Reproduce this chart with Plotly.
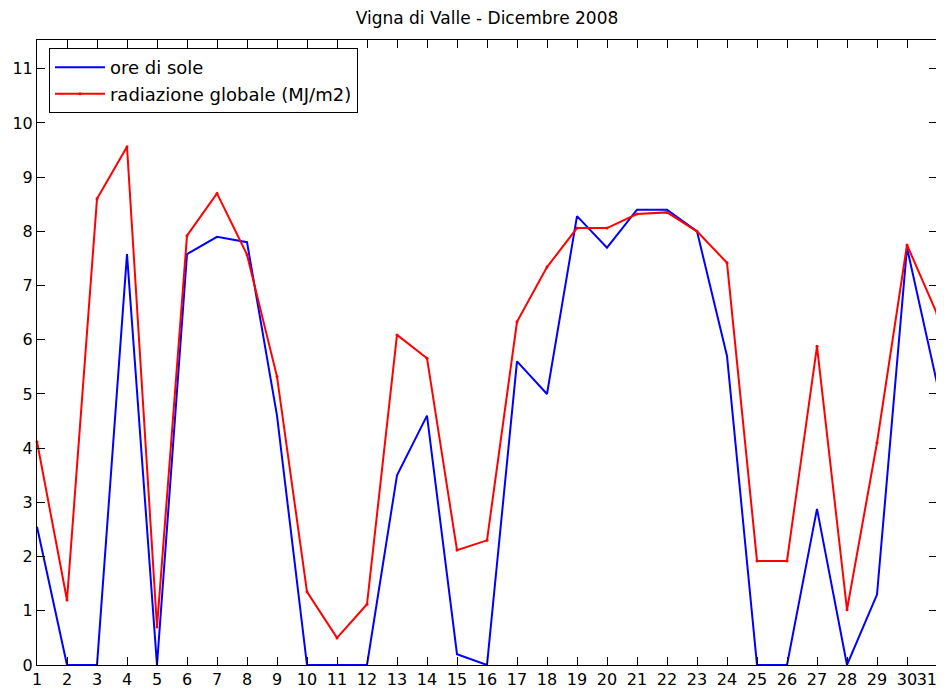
import plotly.graph_objects as go

giorni = list(range(1, 32))
ore_di_sole = [2.55, 0, 0, 7.58, 0, 7.58, 7.9, 7.8, 4.6, 0, 0, 0, 3.5, 4.6, 0.2, 0,
               5.6, 5.0, 8.28, 7.7, 8.4, 8.4, 8.0, 5.7, 0, 0, 2.88, 0, 1.3, 7.7, 5.2]
radiazione = [4.12, 1.2, 8.6, 9.56, 0.7, 7.92, 8.7, 7.57, 5.32, 1.35, 0.5, 1.12, 6.09, 5.66,
              2.12, 2.3, 6.33, 7.34, 8.06, 8.06, 8.32, 8.35, 8.0, 7.42, 1.92, 1.92, 5.88,
              1.02, 4.1, 7.75, 6.48]
x_ticks = list(range(1, 32))
x_labels = [str(v) for v in x_ticks[:-1]] + [
    "31<span style='color:rgba(0,0,0,0)'>00</span>"]
y_ticks = list(range(0, 12))

fig = go.Figure()
fig.add_trace(go.Scatter(x=giorni, y=ore_di_sole, mode="lines", name="ore di sole",
                         line=dict(color="#0000ff", width=2)))
fig.add_trace(go.Scatter(x=giorni, y=radiazione, mode="lines+markers",
                         name="radiazione globale (MJ/m2)",
                         line=dict(color="#ff0000", width=2),
                         marker=dict(color="#ff0000", size=3), cliponaxis=False))

font = "DejaVu Sans, Verdana, sans-serif"
fig.update_layout(
    width=936, height=682,
    margin=dict(l=29, r=7, t=32, b=25, autoexpand=False),
    paper_bgcolor="white", plot_bgcolor="white",
    font=dict(family=font, size=16, color="black"),
    title=dict(text="Vigna di Valle - Dicembre 2008", x=0.5, xref="paper", xanchor="center",
               y=0.985, yanchor="middle", font=dict(size=17, family=font)),
    showlegend=True,
    legend=dict(x=0.0133, y=0.987, xanchor="left", yanchor="top",
                bordercolor="black", borderwidth=1, bgcolor="white",
                font=dict(size=18, family=font), tracegroupgap=0, itemwidth=50),
)
fig.update_xaxes(range=[1, 31], tickvals=x_ticks, ticktext=x_labels, tickangle=0,
                 ticks="inside", ticklen=8, tickcolor="black", showline=True,
                 linecolor="black", linewidth=1, mirror="ticks", showgrid=False,
                 zeroline=False, automargin=False, ticklabeloverflow="allow")
fig.update_yaxes(range=[0, 11.53], tickvals=y_ticks, ticktext=[str(v) for v in y_ticks],
                 ticks="inside", ticklen=8, tickcolor="black", showline=True,
                 linecolor="black", linewidth=1, mirror="ticks", showgrid=False,
                 zeroline=False, automargin=False)

fig.write_html("out.html")
